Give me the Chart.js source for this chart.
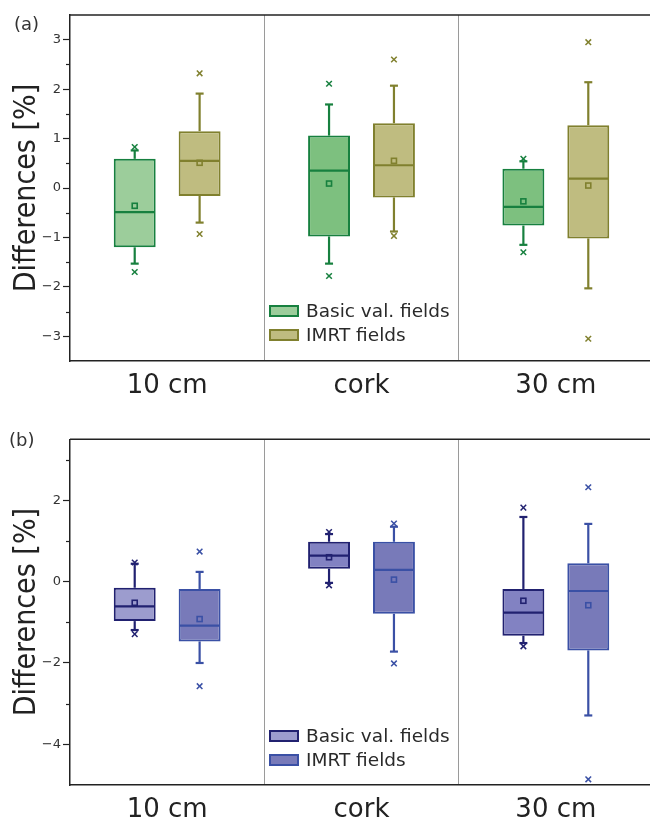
<!DOCTYPE html>
<html><head><meta charset="utf-8">
<script src="https://cdn.jsdelivr.net/npm/chart.js@4.4.1/dist/chart.umd.min.js"></script>
<style>
html,body{margin:0;padding:0;overflow:hidden;background:#fff;}
#wrap{position:relative;width:650px;height:820px;overflow:hidden;background:#fff;}
canvas{position:absolute;left:0;}
.lbl{position:absolute;font-family:'DejaVu Sans',sans-serif;color:#2a2a2a;font-size:18.5px;line-height:20px;white-space:nowrap;}
.plab{position:absolute;font-family:'DejaVu Sans',sans-serif;color:#333;font-size:18px;line-height:20px;}
.lbox{position:absolute;width:26px;height:8px;border:2px solid;box-sizing:content-box;}
</style></head>
<body><div id="wrap">
<canvas id="ca" width="656" height="410" style="top:0px"></canvas>
<canvas id="cb" width="656" height="410" style="top:410px"></canvas>
<div class="plab" style="left:14px;top:14px">(a)</div>
<div class="plab" style="left:9px;top:430px">(b)</div>
<div id="legA"></div>
<div id="legB"></div>
</div>
<script>
// ---------- data ----------
const categories = ['10 cm', 'cork', '30 cm'];
const seriesNames = ['Basic val. fields', 'IMRT fields'];

// panel (a)
const aBasicQ1 = [-1.20, -0.98, -0.76];
const aBasicQ3 = [0.59, 1.06, 0.39];
const aBasicMedian = [-0.49, 0.35, -0.38];
const aBasicMean = [-0.36, 0.09, -0.27];
const aBasicWhiskerLow = [-1.53, -1.53, -1.15];
const aBasicWhiskerHigh = [0.76, 1.69, 0.54];
const aBasicMin = [-1.70, -1.78, -1.30];
const aBasicMax = [0.83, 2.11, 0.59];

const aImrtQ1 = [-0.16, -0.19, -1.02];
const aImrtQ3 = [1.15, 1.31, 1.27];
const aImrtMedian = [0.55, 0.46, 0.19];
const aImrtMean = [0.51, 0.55, 0.05];
const aImrtWhiskerLow = [-0.70, -0.88, -2.03];
const aImrtWhiskerHigh = [1.91, 2.07, 2.14];
const aImrtMin = [-0.93, -0.97, -3.05];
const aImrtMax = [2.32, 2.60, 2.95];

// panel (b)
const bBasicQ1 = [-0.97, 0.32, -1.33];
const bBasicQ3 = [-0.15, 0.98, -0.18];
const bBasicMedian = [-0.61, 0.64, -0.76];
const bBasicMean = [-0.52, 0.60, -0.47];
const bBasicWhiskerLow = [-1.19, -0.03, -1.51];
const bBasicWhiskerHigh = [0.44, 1.17, 1.59];
const bBasicMin = [-1.29, -0.09, -1.59];
const bBasicMax = [0.47, 1.22, 1.82];

const bImrtQ1 = [-1.47, -0.79, -1.69];
const bImrtQ3 = [-0.18, 0.98, 0.45];
const bImrtMedian = [-1.08, 0.29, -0.23];
const bImrtMean = [-0.92, 0.05, -0.58];
const bImrtWhiskerLow = [-2.00, -1.72, -3.29];
const bImrtWhiskerHigh = [0.24, 1.35, 1.42];
const bImrtMin = [-2.57, -2.01, -4.86];
const bImrtMax = [0.74, 1.43, 2.32];

// axes
const yRangeA = [-3.5, 3.5];
const yTicksA = [-3, -2, -1, 0, 1, 2, 3];
const yMinorA = [-2.5, -1.5, -0.5, 0.5, 1.5, 2.5];
const yRangeB = [-5, 3.5];
const yTicksB = [-4, -2, 0, 2];
const yMinorB = [-3, -1, 1, 3];
const yTitle = 'Differences [%]';

// ---------- styles ----------
const styleA = {
  basic: { fill: ['#9ccd9b', '#7dc07f', '#7dc07f'], line: '#17803f', legendFill: '#9ccd9b' },
  imrt:  { fill: ['#bfbc80', '#bfbc80', '#bfbc80'], line: '#80802e', legendFill: '#bfbc80' }
};
const styleB = {
  basic: { fill: ['#9c9cce', '#8282c2', '#8282c2'], line: '#212170', legendFill: '#9c9cce' },
  imrt:  { fill: ['#787ab9', '#787ab9', '#787ab9'], line: '#3a50a5', legendFill: '#787ab9' }
};
const AX = '#222';
const FONT = "'DejaVu Sans', sans-serif";

function mkSeries(name, q1, q3, med, mean, wlo, whi, mn, mx, st) {
  return {
    label: name,
    data: q1.map((v, i) => [v, q3[i]]),
    backgroundColor: st.fill,
    borderColor: st.line,
    borderWidth: 2,
    borderSkipped: false,
    stats: { med, mean, wlo, whi, mn, mx, line: st.line }
  };
}

const boxPlugin = {
  id: 'boxExtras',
  afterDatasetsDraw(chart) {
    const ctx = chart.ctx, y = chart.scales.y;
    const ln = (x1, y1, x2, y2) => { ctx.beginPath(); ctx.moveTo(x1, y1); ctx.lineTo(x2, y2); ctx.stroke(); };
    chart.data.datasets.forEach((ds, i) => {
      const meta = chart.getDatasetMeta(i);
      const st = ds.stats;
      meta.data.forEach((bar, j) => {
        const x = bar.x, half = bar.width / 2;
        const pQ1 = y.getPixelForValue(ds.data[j][0]);
        const pQ3 = y.getPixelForValue(ds.data[j][1]);
        const pLo = y.getPixelForValue(st.wlo[j]);
        const pHi = y.getPixelForValue(st.whi[j]);
        const pMed = y.getPixelForValue(st.med[j]);
        const pMean = y.getPixelForValue(st.mean[j]);
        const pMin = y.getPixelForValue(st.mn[j]);
        const pMax = y.getPixelForValue(st.mx[j]);
        ctx.save();
        ctx.strokeStyle = st.line;
        ctx.lineWidth = 2.2;
        ln(x, pQ3, x, pHi);
        ln(x, pQ1, x, pLo);
        ln(x - 4, pHi, x + 4, pHi);
        ln(x - 4, pLo, x + 4, pLo);
        ln(x - half + 1, pMed, x + half - 1, pMed);
        ctx.lineWidth = 1.6;
        ctx.strokeRect(x - 2.5, pMean - 2.5, 5, 5);
        ctx.lineWidth = 1.5;
        [pMin, pMax].forEach(p => {
          ln(x - 2.8, p - 2.8, x + 2.8, p + 2.8);
          ln(x - 2.8, p + 2.8, x + 2.8, p - 2.8);
        });
        ctx.restore();
      });
    });
  },
  afterDraw(chart) {
    const ctx = chart.ctx, a = chart.chartArea, y = chart.scales.y;
    ctx.save();
    ctx.strokeStyle = AX;
    ctx.lineWidth = 1.5;
    ctx.beginPath(); ctx.moveTo(a.left, a.top); ctx.lineTo(a.right, a.top); ctx.stroke();
    ctx.lineWidth = 1.2;
    (chart.options.plugins.boxExtras.minor || []).forEach(v => {
      const p = Math.round(y.getPixelForValue(v)) + 0.5;
      ctx.beginPath(); ctx.moveTo(a.left - 4, p); ctx.lineTo(a.left, p); ctx.stroke();
    });
    ctx.restore();
  }
};

function makeChart(id, datasets, range, ticks, minor, padTop, xHeight) {
  return new Chart(document.getElementById(id), {
    type: 'bar',
    data: { labels: categories, datasets },
    options: {
      responsive: false,
      animation: false,
      events: [],
      layout: { padding: { top: padTop, left: 0, right: 3, bottom: 0 } },
      datasets: { bar: { categoryPercentage: 0.668, barPercentage: 0.646 } },
      plugins: { legend: { display: false }, tooltip: { enabled: false }, boxExtras: { minor } },
      scales: {
        x: {
          offset: true,
          grid: { display: true, offset: true, color: '#9a9a9a', lineWidth: 1, drawTicks: false },
          border: { display: true, color: AX, width: 1.5 },
          ticks: { color: AX, font: { family: FONT, size: 26 }, padding: 10, maxRotation: 0 },
          afterFit: s => { s.height = xHeight; }
        },
        y: {
          min: range[0], max: range[1],
          afterBuildTicks: s => { s.ticks = ticks.map(v => ({ value: v })); },
          grid: { drawOnChartArea: false, drawTicks: true, tickLength: 7, tickColor: AX, tickWidth: 1.2 },
          border: { display: true, color: AX, width: 1.5 },
          ticks: { color: '#333', font: { family: FONT, size: 13 }, padding: 2,
                   callback: v => v < 0 ? '\u2212' + Math.abs(v) : String(v) },
          title: { display: true, text: yTitle, color: AX,
                   font: { family: "'DejaVu Sans Condensed', 'DejaVu Sans', sans-serif", size: 30 },
                   padding: { top: 9, bottom: 0 } },
          afterFit: s => { s.width = 70; }
        }
      }
    },
    plugins: [boxPlugin]
  });
}

makeChart('ca', [
  mkSeries(seriesNames[0], aBasicQ1, aBasicQ3, aBasicMedian, aBasicMean, aBasicWhiskerLow, aBasicWhiskerHigh, aBasicMin, aBasicMax, styleA.basic),
  mkSeries(seriesNames[1], aImrtQ1, aImrtQ3, aImrtMedian, aImrtMean, aImrtWhiskerLow, aImrtWhiskerHigh, aImrtMin, aImrtMax, styleA.imrt)
], yRangeA, yTicksA, yMinorA, 15, 49);

makeChart('cb', [
  mkSeries(seriesNames[0], bBasicQ1, bBasicQ3, bBasicMedian, bBasicMean, bBasicWhiskerLow, bBasicWhiskerHigh, bBasicMin, bBasicMax, styleB.basic),
  mkSeries(seriesNames[1], bImrtQ1, bImrtQ3, bImrtMedian, bImrtMean, bImrtWhiskerLow, bImrtWhiskerHigh, bImrtMin, bImrtMax, styleB.imrt)
], yRangeB, yTicksB, yMinorB, 29.3, 35);

function legend(elId, style, topY) {
  const el = document.getElementById(elId);
  const sts = [style.basic, style.imrt];
  seriesNames.forEach((n, i) => {
    const cy = topY + i * 23.5;
    const b = document.createElement('div');
    b.className = 'lbox';
    b.style.left = '269px';
    b.style.top = (cy - 6) + 'px';
    b.style.background = sts[i].legendFill;
    b.style.borderColor = sts[i].line;
    el.appendChild(b);
    const t = document.createElement('div');
    t.className = 'lbl';
    t.style.left = '306px';
    t.style.top = (cy - 9.7) + 'px';
    t.textContent = n;
    el.appendChild(t);
  });
}
legend('legA', styleA, 311);
legend('legB', styleB, 736);
</script>
</body></html>
